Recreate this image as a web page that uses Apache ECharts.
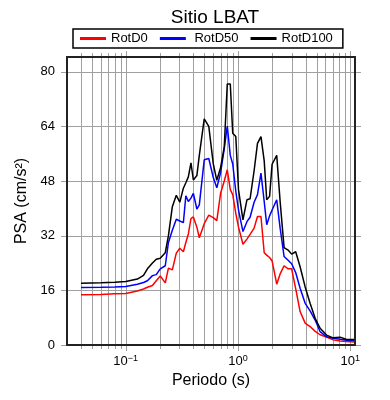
<!DOCTYPE html>
<html><head><meta charset="utf-8">
<script src="https://cdn.jsdelivr.net/npm/echarts@6/dist/echarts.min.js"></script>
<style>html,body{margin:0;padding:0;background:#fff}#c{width:390px;height:400px}</style>
</head><body><div id="c"></div>
<script>
// Periods (s)
const periods = [0.04, 0.06, 0.08, 0.1, 0.127, 0.144, 0.156, 0.173, 0.187, 0.203,
  0.225, 0.24, 0.26, 0.282, 0.303, 0.326, 0.343, 0.361, 0.381, 0.40,
  0.43, 0.452, 0.50, 0.549, 0.602, 0.647, 0.70, 0.754, 0.802, 0.853,
  0.897, 0.955, 1.01, 1.106, 1.2, 1.28, 1.39, 1.49, 1.6, 1.71,
  1.8, 1.91, 2.01, 2.21, 2.37, 2.57, 2.79, 3.0, 3.26, 3.57,
  3.96, 4.38, 4.86, 5.38, 6.14, 7.02, 8.1, 9.25, 10.8];
// PSA (cm/s^2)
const rotD0 = [14.7, 14.8, 15.0, 15.1, 15.8, 16.4, 16.9, 17.4, 18.8, 20.2,
  18.2, 22.5, 22.0, 26.9, 28.3, 27.3, 30.0, 32.5, 37.0, 37.5,
  34.5, 31.4, 35.5, 38.0, 37.3, 36.4, 44.5, 48.0, 51.3, 45.5,
  44.0, 38.5, 34.5, 29.5, 31.0, 32.4, 34.2, 37.6, 37.6, 27.0,
  26.3, 25.6, 24.6, 17.8, 20.8, 23.2, 22.3, 22.3, 16.5, 9.8,
  6.4, 5.4, 4.0, 3.0, 2.3, 1.5, 1.2, 1.0, 0.9];
const rotD50 = [16.8, 16.9, 17.0, 17.1, 17.8, 18.3, 18.8, 20.3, 20.6, 22.3,
  23.2, 30.0, 33.6, 36.8, 36.3, 35.8, 43.7, 42.0, 43.0, 44.4,
  39.8, 41.0, 54.2, 54.6, 49.0, 46.0, 50.5, 57.5, 64.1, 55.5,
  53.0, 45.0, 39.5, 33.2, 36.1, 37.4, 41.8, 44.0, 50.3, 42.0,
  35.2, 37.8, 39.5, 42.5, 34.2, 25.9, 24.8, 23.8, 21.2, 16.6,
  12.2, 10.0, 7.3, 3.9, 2.4, 2.0, 1.7, 1.4, 1.3];
const rotD100 = [18.1, 18.2, 18.4, 18.6, 19.3, 20.4, 22.3, 24.0, 25.1, 25.4,
  27.0, 32.0, 40.5, 43.8, 41.8, 45.9, 47.5, 49.2, 53.3, 48.3,
  49.6, 55.5, 66.2, 64.0, 53.0, 48.2, 52.0, 58.0, 76.4, 76.4,
  62.0, 61.0, 45.4, 36.6, 42.5, 42.8, 51.0, 59.0, 61.0, 53.9,
  42.5, 43.5, 52.9, 55.5, 42.0, 28.5, 27.8, 26.6, 27.3, 22.9,
  17.0, 12.2, 7.8, 4.9, 2.9, 2.1, 2.3, 1.6, 1.6];
const seriesNames = ['RotD0', 'RotD50', 'RotD100'];
// Grid / tick values
const xGridValues = [0.04, 0.05, 0.06, 0.07, 0.08, 0.09, 0.1,
  0.2, 0.3, 0.4, 0.5, 0.6, 0.7, 0.8, 0.9, 1,
  2, 3, 4, 5, 6, 7, 8, 9, 10];
const yTickValues = [0, 16, 32, 48, 64, 80];
const X_MIN = 0.03, X_MAX = 11, Y_MIN = 0, Y_MAX = 84.3;

const font = 'Liberation Sans, Arial, Helvetica, sans-serif';
const gridStyle = { stroke: '#a0a0a0', lineWidth: 1 };
const frame = { show: true, onZero: false, lineStyle: { color: '#222', width: 2 } };

function isDecade(v) { const e = Math.log10(v); return Math.abs(e - Math.round(e)) < 1e-6; }

function xGridItem(params, api) {
  const v = api.value(0);
  const b = api.coord([v, Y_MIN]);
  const t = api.coord([v, Y_MAX]);
  const x = Math.round(b[0]) + 0.5;
  const len = isDecade(v) ? 5 : 3;
  return { type: 'group', children: [
    { type: 'line', shape: { x1: x, y1: t[1], x2: x, y2: b[1] }, style: gridStyle },
    { type: 'line', shape: { x1: x, y1: b[1], x2: x, y2: b[1] + len + 1 }, style: gridStyle },
    { type: 'line', shape: { x1: x, y1: t[1] - len - 1, x2: x, y2: t[1] }, style: gridStyle }
  ]};
}
function yGridItem(params, api) {
  const v = api.value(1);
  const l = api.coord([X_MIN, v]);
  const r = api.coord([X_MAX, v]);
  const y = Math.round(l[1]) + 0.5;
  return { type: 'group', children: [
    { type: 'line', shape: { x1: l[0], y1: y, x2: r[0], y2: y }, style: gridStyle },
    { type: 'line', shape: { x1: l[0] - 6, y1: y, x2: l[0], y2: y }, style: gridStyle },
    { type: 'line', shape: { x1: r[0], y1: y, x2: r[0] + 6, y2: y }, style: gridStyle }
  ]};
}

const colors = ['#ff0000', '#0000ff', '#000000'];
const values = [rotD0, rotD50, rotD100];
const lineSeries = seriesNames.map((n, k) => ({
  name: n, type: 'line', xAxisIndex: 0, yAxisIndex: 0, z: 3,
  showSymbol: false, symbol: 'none',
  data: periods.map((p, i) => [p, values[k][i]]),
  lineStyle: { color: colors[k], width: 1.5 }, itemStyle: { color: colors[k] }
}));

const chart = echarts.init(document.getElementById('c'));
chart.setOption({
  animation: false,
  backgroundColor: '#fff',
  title: { text: 'Sitio LBAT', left: 210, top: 3, textAlign: 'center',
    textStyle: { fontSize: 19, fontWeight: 'normal', color: '#000', fontFamily: font } },
  legend: {
    data: seriesNames, top: 29, left: 73, orient: 'horizontal',
    padding: [3, 10, 3, 7], borderColor: '#000', borderWidth: 1.5, backgroundColor: '#fff',
    icon: 'rect', itemWidth: 26, itemHeight: 3, itemGap: 12,
    formatter: n => n === 'RotD50' ? ' ' + n : n,
    textStyle: { fontSize: 13, color: '#000', fontFamily: font }
  },
  grid: { left: 67, right: 35, top: 57, bottom: 55 },
  xAxis: [{
    type: 'log', logBase: 10, min: X_MIN, max: X_MAX, position: 'bottom', z: 5,
    axisLine: frame, axisTick: { show: false }, splitLine: { show: false },
    axisLabel: {
      margin: 9, showMinLabel: false, showMaxLabel: false,
      formatter: v => isDecade(v) ? '{b|10}{s|' + String(Math.round(Math.log10(v))).replace('-', '\u2212') + '}' : '',
      rich: {
        b: { fontSize: 13, color: '#000', fontFamily: font, lineHeight: 15 },
        s: { fontSize: 9, color: '#000', fontFamily: font, verticalAlign: 'top' }
      }
    },
    name: 'Periodo (s)', nameLocation: 'middle', nameGap: 24,
    nameTextStyle: { fontSize: 16, color: '#000', fontFamily: font }
  }, {
    type: 'log', logBase: 10, min: X_MIN, max: X_MAX, position: 'top', z: 5,
    axisLine: frame, axisTick: { show: false }, splitLine: { show: false }, axisLabel: { show: false }
  }],
  yAxis: [{
    type: 'value', min: Y_MIN, max: Y_MAX, interval: 16, position: 'left', z: 5,
    axisLine: frame, axisTick: { show: false }, splitLine: { show: false },
    axisLabel: { margin: 12, fontSize: 13, color: '#000', fontFamily: font, showMaxLabel: false },
    name: 'PSA (cm/s\u00B2)', nameLocation: 'middle', nameGap: 27,
    nameTextStyle: { fontSize: 16, color: '#000', fontFamily: font }
  }, {
    type: 'value', min: Y_MIN, max: Y_MAX, interval: 16, position: 'right', z: 5,
    axisLine: frame, axisTick: { show: false }, splitLine: { show: false }, axisLabel: { show: false }
  }],
  series: [
    { type: 'custom', name: 'xgrid', xAxisIndex: 0, yAxisIndex: 0, silent: true, clip: false, z: 1,
      renderItem: xGridItem, data: xGridValues.map(v => [v, Y_MIN]) },
    { type: 'custom', name: 'ygrid', xAxisIndex: 0, yAxisIndex: 0, silent: true, clip: false, z: 1,
      renderItem: yGridItem, data: yTickValues.map(v => [X_MIN, v]) }
  ].concat(lineSeries)
});
</script>
</body></html>
